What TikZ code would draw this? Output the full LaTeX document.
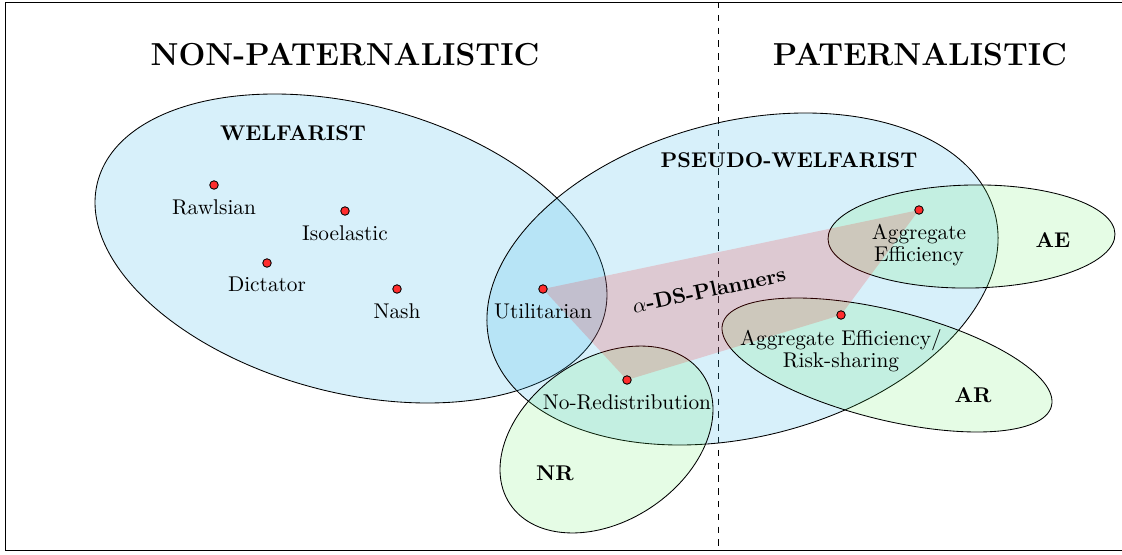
\documentclass[tikz,border=0pt]{standalone}
\usepackage{amsmath}
\definecolor{wblue}{RGB}{55,180,230}
\definecolor{wgreen}{RGB}{82,235,82}
\definecolor{dotred}{RGB}{255,45,45}
\newcommand{\ttlscale}[1]{\scalebox{1.035}{#1}}
\begin{document}
\begin{tikzpicture}[x=0.469pt,y=-0.469pt,
  blueset/.style={draw=black, line width=0.4pt, fill=wblue, fill opacity=0.2},
  greenset/.style={draw=black, line width=0.4pt, fill=wgreen, fill opacity=0.15},
  planfill/.style={fill=red, fill opacity=0.16},
  dotnode/.style={circle, draw=black, line width=0.4pt, fill=dotred, inner sep=0pt, minimum size=4pt},
  lab/.style={font=\normalsize},
  titletext/.style={font=\Large\bfseries},
  setname/.style={font=\bfseries}]
\useasboundingbox (0,0) rectangle (1122,555);
\clip (0,0) rectangle (1122,555);
% frame and divider
\draw[line width=0.4pt] (5,2) rectangle (1140,550);
\coordinate (divtop) at (718,2);
\coordinate (divbot) at (718,550);
\draw[dashed, line width=0.4pt] (divtop) -- (divbot);
% titles
\node[titletext] (np) at (345,55) {\ttlscale{NON-PATERNALISTIC}};
\node[titletext] (pa) at (920,55) {\ttlscale{PATERNALISTIC}};
% sets
\draw[blueset, rotate around={-14.8:(351,248.5)}] (351,248.5) ellipse [x radius=262, y radius=144];
\draw[blueset, rotate around={14.5:(742.5,279)}] (742.5,279) ellipse [x radius=260.8, y radius=157.6];
\draw[greenset, rotate around={33.9:(606.5,439.5)}] (606.5,439.5) ellipse [x radius=116.1, y radius=81.2];
\draw[greenset, rotate around={1:(971.5,236.5)}] (971.5,236.5) ellipse [x radius=143.5, y radius=51.5];
\draw[greenset, rotate around={-14:(887,365)}] (887,365) ellipse [x radius=169.5, y radius=54.6];
% planner points
\coordinate (pU) at (543,289);
\coordinate (pAE) at (919,210);
\coordinate (pAR) at (841,315);
\coordinate (pNR) at (627,380);
\fill[planfill] (pU) -- (pAE) -- (pAR) -- (pNR) -- cycle;
\node[font=\bfseries, rotate=12] (alpha) at (709,290) {$\alpha$-DS-Planners};
% set names
\node[setname] (welf) at (293,133) {WELFARIST};
\node[setname] (pseudo) at (789,160) {PSEUDO-WELFARIST};
\node[setname] (ae) at (1053,240) {AE};
\node[setname] (ar) at (973,395) {AR};
\node[setname] (nr) at (555,473) {NR};
% dots
\node[dotnode, label={[lab,label distance=1pt]below:Rawlsian}] (rawls) at (214,185) {};
\node[dotnode, label={[lab,label distance=1pt]below:Isoelastic}] (iso) at (345,211) {};
\node[dotnode, label={[lab,label distance=1pt]below:Dictator}] (dict) at (267,263) {};
\node[dotnode, label={[lab,label distance=1pt]below:Nash}] (nash) at (397,289) {};
\node[dotnode, label={[lab,label distance=1pt]below:Utilitarian}] (util) at (pU) {};
\node[dotnode, label={[lab,label distance=1pt]below:No-Redistribution}] (nored) at (pNR) {};
\node[dotnode] (aeff) at (pAE) {};
\node[dotnode] (aers) at (pAR) {};
\node[lab, align=center, anchor=north, inner sep=3.33pt] (aefflab) at ([yshift=-1pt]aeff.south) {Aggregate\\[-1.8pt]Efficiency};
\node[lab, align=center, anchor=north, inner sep=3.33pt] (aerslab) at ([yshift=-1pt]aers.south) {Aggregate Efficiency/\\[-1.8pt]Risk-sharing};
\end{tikzpicture}
\end{document}
